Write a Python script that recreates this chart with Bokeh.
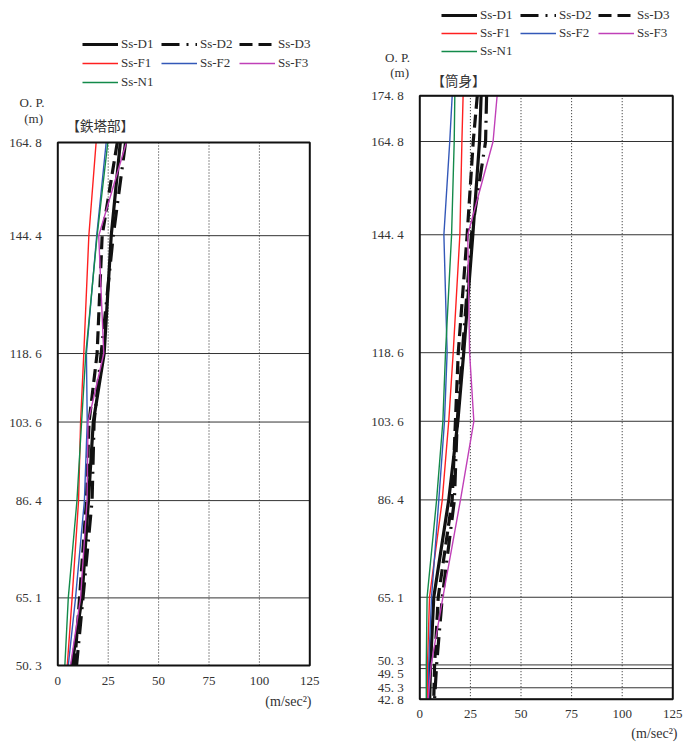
from bokeh.plotting import figure
from bokeh.models import Range1d, FixedTicker, Legend, LegendItem, Label
from bokeh.layouts import row
from bokeh.embed import file_html
from bokeh.resources import INLINE

# ---------------- data ----------------
SERIES = ["Ss-D1", "Ss-D2", "Ss-D3", "Ss-F1", "Ss-F2", "Ss-F3", "Ss-N1"]
X_TICKS = [0, 25, 50, 75, 100, 125]

# 鉄塔部 (steel tower)
OP_L = [164.8, 144.4, 118.6, 103.6, 86.4, 65.1, 50.3]
D1_L = [31.0, 26.5, 23.0, 17.6, 15.2, 12.0, 7.0]
D2_L = [33.6, 27.5, 21.5, 18.0, 17.0, 12.5, 9.3]
D3_L = [29.5, 22.0, 19.5, 15.5, 14.2, 10.8, 8.3]
F1_L = [19.0, 15.4, 12.9, 11.3, 10.3, 7.1, 4.7]
F2_L = [24.0, 19.3, 14.2, 14.6, 13.2, 8.8, 5.2]
F3_L = [34.0, 20.3, 22.8, 15.0, 14.5, 11.3, 6.3]
N1_L = [24.8, 19.5, 13.9, 11.8, 9.5, 5.2, 3.5]

# 筒身 (stack body)
OP_R = [174.8, 164.8, 144.4, 118.6, 103.6, 86.4, 65.1, 50.3, 42.8]
D1_R = [30.3, 29.5, 26.2, 21.7, 18.8, 14.3, 6.9, 5.3, 4.9]
D2_R = [33.0, 32.5, 25.5, 21.0, 18.5, 17.1, 11.1, 8.3, 7.3]
D3_R = [28.4, 26.4, 23.4, 19.0, 17.6, 16.0, 9.1, 7.3, 6.9]
F1_R = [21.4, 20.8, 19.8, 16.5, 14.3, 11.1, 4.8, 3.8, 3.8]
F2_R = [16.0, 14.8, 11.9, 13.5, 12.2, 9.4, 5.8, 4.4, 4.4]
F3_R = [38.2, 36.2, 23.7, 24.6, 26.7, 20.1, 11.4, 5.6, 4.1]
N1_R = [17.3, 17.0, 15.7, 12.7, 11.4, 8.3, 3.6, 3.2, 3.2]

TICKS_L = [164.8, 144.4, 118.6, 103.6, 86.4, 65.1, 50.3]
TICK_LABELS_L = ["164. 8", "144. 4", "118. 6", "103. 6", "86. 4", "65. 1", "50. 3"]
TICKS_R = [174.8, 164.8, 144.4, 118.6, 103.6, 86.4, 65.1, 50.3, 49.5, 45.3, 42.8]
TICK_LABELS_R = ["174. 8", "164. 8", "144. 4", "118. 6", "103. 6", "86. 4", "65. 1",
                 "50. 3", "49. 5", "45. 3", "42. 8"]
# label positions for the crowded low ticks (labels pushed apart as in the original)
TICK_LABEL_POS_R = [174.8, 164.8, 144.4, 118.6, 103.6, 86.4, 65.1, 51.2, 48.4, 45.3, 42.8]

STYLE = {
    "Ss-D1": dict(color="#111111", width=3.2, dash="solid"),
    "Ss-D2": dict(color="#111111", width=3.2, dash="18 7 2 7"),
    "Ss-D3": dict(color="#111111", width=3.2, dash="13 6"),
    "Ss-F1": dict(color="#ff2020", width=1.4, dash="solid"),
    "Ss-F2": dict(color="#3358b8", width=1.4, dash="solid"),
    "Ss-F3": dict(color="#c040b8", width=1.4, dash="solid"),
    "Ss-N1": dict(color="#138a4a", width=1.4, dash="solid"),
}

SERIF = "Liberation Serif"
CJK = "Noto Sans CJK JP"
TXT = "#333333"
H = 744


def make_panel(op, vals, ticks, tick_labels, tick_pos, W, box_x0, box_x1, box_y_top, box_y_bot,
               legend_x, legend_top, row_step, title, title_xy, op_xy, m_xy, unit_xy):
    # pixel geometry of the drawing box inside this figure (frame == whole figure)
    kx = (box_x1 - box_x0) / (X_TICKS[-1] - X_TICKS[0])
    ky = (box_y_bot - box_y_top) / (max(ticks) - min(ticks))
    x_start = X_TICKS[0] - box_x0 / kx
    x_end = X_TICKS[0] + (W - box_x0) / kx
    y_end = max(ticks) + box_y_top / ky
    y_start = max(ticks) - (H - box_y_top) / ky

    p = figure(width=W, height=H, x_range=Range1d(x_start, x_end), y_range=Range1d(y_start, y_end),
               output_backend="svg", toolbar_location=None,
               min_border_left=0, min_border_right=0, min_border_top=0, min_border_bottom=0)
    p.outline_line_color = None
    p.background_fill_color = "white"
    p.border_fill_color = "white"
    p.xgrid.visible = False
    p.ygrid.visible = False

    ymin, ymax = min(ticks), max(ticks)

    # x axis, drawn at the bottom of the box
    xa = p.xaxis[0]
    xa.fixed_location = ymin
    xa.ticker = FixedTicker(ticks=X_TICKS)
    xa.axis_line_color = None
    xa.major_tick_line_color = None
    xa.minor_tick_line_color = None
    xa.major_label_standoff = 5
    xa.major_label_text_font = SERIF
    xa.major_label_text_font_size = "13px"
    xa.major_label_text_color = TXT

    # y axis, drawn at the left edge of the box
    ya = p.yaxis[0]
    ya.fixed_location = X_TICKS[0]
    ya.ticker = FixedTicker(ticks=tick_pos)
    ya.major_label_overrides = {float(t): s for t, s in zip(tick_pos, tick_labels)}
    ya.axis_line_color = None
    ya.major_tick_line_color = None
    ya.minor_tick_line_color = None
    ya.major_label_standoff = 10
    ya.major_label_text_font = SERIF
    ya.major_label_text_font_size = "13px"
    ya.major_label_text_color = TXT

    # grid lines limited to the box
    inner = X_TICKS[1:-1]
    p.segment(x0=inner, y0=[ymin] * len(inner), x1=inner, y1=[ymax] * len(inner),
              line_color="#222222", line_width=1, line_dash="1 2")
    p.segment(x0=[X_TICKS[0]] * len(ticks), y0=ticks, x1=[X_TICKS[-1]] * len(ticks), y1=ticks,
              line_color="#333333", line_width=1)

    rends = {}
    for name in SERIES:
        st = STYLE[name]
        rends[name] = p.line(vals[name], op, line_color=st["color"], line_width=st["width"],
                             line_dash=st["dash"])

    # box frame
    p.quad(left=[X_TICKS[0]], right=[X_TICKS[-1]], bottom=[ymin], top=[ymax],
           fill_color=None, line_color="#111111", line_width=2)

    cols = [["Ss-D1", "Ss-F1", "Ss-N1"], ["Ss-D2", "Ss-F2"], ["Ss-D3", "Ss-F3"]]
    for ci, names in enumerate(cols):
        items = [LegendItem(label=n, renderers=[rends[n]]) for n in names]
        n = len(names)
        height = n * 18 + (n - 1) * (row_step - 18)
        leg = Legend(items=items, location=(legend_x[ci], H - (legend_top + height)),
                     orientation="vertical",
                     padding=0, margin=0, spacing=row_step - 18, label_height=18, glyph_height=18,
                     glyph_width=36, label_standoff=3, border_line_color=None,
                     background_fill_alpha=0, label_text_font=SERIF,
                     label_text_font_size="13px", label_text_color=TXT)
        p.add_layout(leg)

    def px2data(px, py):
        return (x_start + px / kx, y_end - py / ky)

    def lab(text, xy, align, font=SERIF, size="13px"):
        dx, dy = px2data(*xy)
        p.add_layout(Label(x=dx, y=dy, text=text, text_align=align, text_baseline="middle",
                           text_font=font, text_font_size=size, text_color=TXT))

    lab("O. P.", op_xy, "right")
    lab("(m)", m_xy, "right")
    lab(title, title_xy, "left", font=CJK, size="13.5px")
    lab("(m/sec²)", unit_xy, "right", size="14px")
    return p


vals_L = {"Ss-D1": D1_L, "Ss-D2": D2_L, "Ss-D3": D3_L, "Ss-F1": F1_L,
          "Ss-F2": F2_L, "Ss-F3": F3_L, "Ss-N1": N1_L}
vals_R = {"Ss-D1": D1_R, "Ss-D2": D2_R, "Ss-D3": D3_R, "Ss-F1": F1_R,
          "Ss-F2": F2_R, "Ss-F3": F3_R, "Ss-N1": N1_R}

# left figure occupies page x 0..360
pL = make_panel(OP_L, vals_L, TICKS_L, TICK_LABELS_L, TICKS_L, W=360,
                box_x0=57.3, box_x1=309.3, box_y_top=142.0, box_y_bot=665.0,
                legend_x=[82, 161, 239], legend_top=35, row_step=19,
                title="【鉄塔部】", title_xy=(66, 124.5),
                op_xy=(44, 102), m_xy=(42.5, 118), unit_xy=(311, 701))

# right figure occupies page x 360..685 (local coords = page x - 360)
pR = make_panel(OP_R, vals_R, TICKS_R, TICK_LABELS_R, TICK_LABEL_POS_R, W=325,
                box_x0=59.3, box_x1=312.3, box_y_top=95.3, box_y_bot=698.7,
                legend_x=[81, 160, 238], legend_top=6, row_step=18,
                title="【筒身】", title_xy=(71, 79),
                op_xy=(49.5, 57), m_xy=(48.5, 71.5), unit_xy=(317, 733))

layout = row(pL, pR, spacing=0)
open("out.html", "w").write(file_html(layout, INLINE))
